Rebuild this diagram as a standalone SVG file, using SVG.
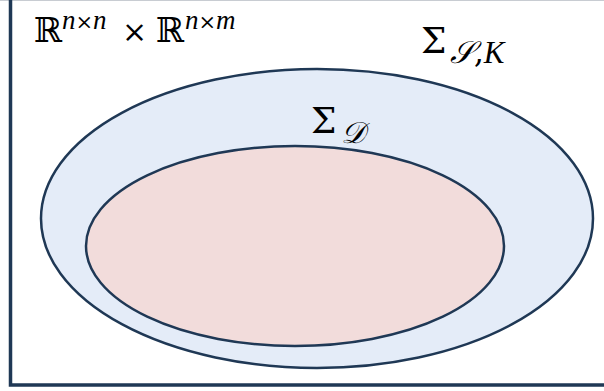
<svg xmlns="http://www.w3.org/2000/svg" width="604" height="391" viewBox="0 0 604 391">
<style>
.m{font-family:"DejaVu Serif","Liberation Serif",serif;fill:#000}
.i{font-family:"Liberation Serif","DejaVu Serif",serif;font-style:italic;fill:#000}
.set{stroke:#1f3855;stroke-width:2.5}
</style>
<rect x="0" y="0" width="604" height="391" fill="#fff"/>
<line x1="0" y1="0.5" x2="604" y2="0.5" stroke="#c8ccd2" stroke-width="1"/>
<path d="M10.5 0 V385 H604" fill="none" stroke="#1f3855" stroke-width="3.5"/>
<g id="sigma-sk">
<ellipse class="set" cx="317" cy="218.5" rx="276" ry="149.5" fill="#e4ecf8"/>
</g>
<g id="sigma-d">
<ellipse class="set" cx="295" cy="246" rx="209" ry="100" fill="#f2dcdb"/>
</g>
<g id="labels">
<text x="34" y="42" class="m" font-size="34">ℝ</text>
<text x="62" y="29" class="i" font-size="27">n<tspan class="m" font-style="normal" font-size="21">×</tspan>n</text>
<text x="122" y="42" class="m" font-size="30">×</text>
<text x="156" y="42" class="m" font-size="34">ℝ</text>
<text x="185" y="29" class="i" font-size="27">n<tspan class="m" font-style="normal" font-size="21">×</tspan>m</text>
<text x="421" y="53" class="m" font-size="36">Σ</text>
<text x="450" y="63" class="i" font-size="31">𝒮<tspan class="m" font-style="normal">,</tspan>K</text>
<text x="311" y="133" class="m" font-size="36">Σ</text>
<text x="341" y="143" class="i" font-size="30">𝒟</text>
</g>
</svg>
